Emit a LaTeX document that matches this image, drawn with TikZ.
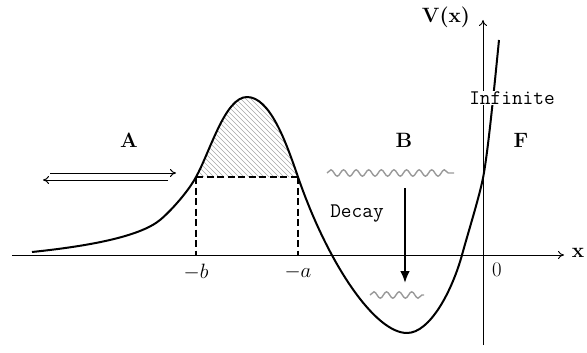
\documentclass[tikz,border=0pt]{standalone}
\usetikzlibrary{decorations.pathmorphing,arrows.meta}
\begin{document}
\begin{tikzpicture}[x=1pt,y=-1pt,font=\fontsize{20.74}{25}\selectfont,
  axisline/.style={line width=0.9pt,-{To[length=6pt,width=8pt]}},
  curveline/.style={line width=2pt,line join=round},
  dashline/.style={line width=1.1pt,dash pattern=on 7pt off 3.5pt},
  hatchline/.style={gray!70,line width=0.4pt},
  wave/.style={gray!80,line width=1.4pt,decorate,decoration={snake,segment length=12.6pt,amplitude=3.2pt}},
  thinarrow/.style={line width=1pt,-{To[length=6pt,width=8pt]}},
  decayarrow/.style={line width=2.6pt,-{Latex[length=12pt,width=10pt]}}]
\useasboundingbox (0,0) rectangle (587,353);
% hatched region
\begin{scope}
  \clip (196,177) .. controls (210,152) and (225,97) .. (247,97)
        .. controls (270,97) and (286,142) .. (298,177) -- cycle;
  \foreach \i in {0,5,...,260} {\draw[hatchline] (\i+40,88) -- (\i+140,188);}
\end{scope}
% axes
\coordinate (xl) at (12,255);
\coordinate (xr) at (564,255);
\coordinate (yb) at (483,345);
\coordinate (yt) at (483,20);
\draw[axisline] (xl) -- (xr);
\draw[axisline] (yb) -- (yt);
% curve
\coordinate (c0) at (32,252);
\coordinate (c1) at (160,220);
\coordinate (pb) at (196,177);
\coordinate (pk) at (247,97);
\coordinate (pa) at (298,177);
\coordinate (mn) at (407,333);
\coordinate (c5) at (462,255);
\coordinate (c6) at (483,178);
\coordinate (c7) at (499,40);
\draw[curveline] (c0) .. controls (90,246) and (140,236.4) .. (c1)
  .. controls (170,211.8) and (188,192) .. (pb)
  .. controls (210,152) and (225,97) .. (pk)
  .. controls (270,97) and (286,142) .. (pa)
  .. controls (328,264) and (375,333) .. (mn)
  .. controls (430,333) and (452,291) .. (c5)
  .. controls (468,233) and (479,198) .. (c6)
  .. controls (488,153) and (495,80) .. (c7);
% dashed lines
\coordinate (qb) at (196,255);
\coordinate (qa) at (298,255);
\draw[dashline] (pb) -- (pa);
\draw[dashline] (pb) -- (qb);
\draw[dashline] (pa) -- (qa);
% labels
\node (mb) at (196,272) {$-b$};
\node (ma) at (298,272) {$-a$};
\node (zero) at (497,270) {0};
\node (xlab) at (578,253) {\textbf{x}};
\node (Vx) at (446,17) {\textbf{V(x)}};
\node[fill=white,inner sep=1pt] (inf) at (512,98) {\ttfamily Infinite};
\node (A) at (129,140) {\textbf{A}};
\node (B) at (404,140) {\textbf{B}};
\node (F) at (521,140) {\textbf{F}};
\node (decay) at (357,214) {\ttfamily Decay};
% arrows
\coordinate (r1) at (50,173);
\coordinate (r2) at (176,173);
\coordinate (l1) at (168,180);
\coordinate (l2) at (43,180);
\draw[thinarrow] (r1) -- (r2);
\draw[thinarrow] (l1) -- (l2);
\coordinate (d1) at (405,188);
\coordinate (d2) at (405,283);
\draw[decayarrow] (d1) -- (d2);
% waves
\coordinate (w1) at (327,173);
\coordinate (w2) at (454,173);
\coordinate (w3) at (370,295);
\coordinate (w4) at (424,295);
\draw[wave] (w1) -- (w2);
\draw[wave] (w3) -- (w4);
\end{tikzpicture}
\end{document}
